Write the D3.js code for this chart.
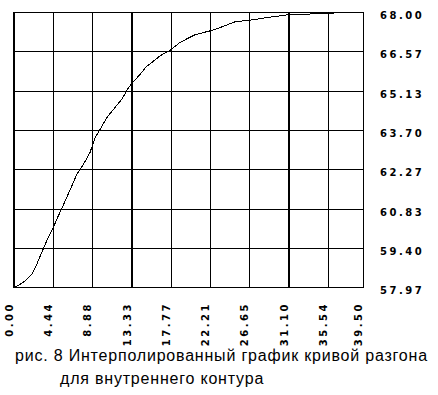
<!DOCTYPE html>
<html>
<head>
<meta charset="utf-8">
<script src="https://cdn.jsdelivr.net/npm/d3@7"></script>
<style>
    body { margin: 0; background: #fff; }
    svg { display: block; }
    .tick-label { font-family: "DejaVu Sans", sans-serif; font-weight: bold; font-size: 10px; letter-spacing: 2.5px; fill: #000; }
    .caption { font-family: "Liberation Sans", Arial, sans-serif; font-size: 16px; letter-spacing: 0.8px; fill: #000; }
</style>
</head>
<body>
<div id="chart"></div>
<script>
// time axis ticks (last one is the end of the record)
let xTicks = [0.00, 4.44, 8.88, 13.33, 17.77, 22.21, 26.65, 31.10, 35.54, 39.50];
let yTicks = [57.97, 59.40, 60.83, 62.27, 63.70, 65.13, 66.57, 68.00];

// interpolated step response
let time = [0, 0.68, 1.44, 2.0, 2.57, 3.14, 3.88, 4.45, 5.01, 5.40, 5.96, 6.53, 7.10, 7.84,
    8.60, 9.17, 9.73, 10.49, 11.24, 12.19, 12.94, 13.32, 14.26, 15.02, 15.73, 16.53, 17.66,
    18.79, 20.49, 22.18, 23.32, 25.01, 26.71, 28.78, 31.05, 33.13, 35.39, 37.46, 39.50];
let value = [57.97, 58.08, 58.26, 58.45, 58.81, 59.25, 59.80, 60.16, 60.58, 60.84, 61.25, 61.66,
    62.09, 62.45, 62.89, 63.43, 63.73, 64.16, 64.46, 64.83, 65.25, 65.40, 65.74, 66.04, 66.21,
    66.42, 66.62, 66.91, 67.19, 67.33, 67.45, 67.66, 67.72, 67.82, 67.92, 67.94, 67.97, 68.00, 68.00];

let caption = ["рис. 8 Интерполированный график кривой разгона", "для внутреннего контура"];

let width = 438,
    height = 395,
    plot = { left: 14, right: 363, top: 12.5, bottom: 287.5 },
    boldCols = [0, 3, 7]; // these columns come out 2px wide in the original

let svg = d3.select('#chart').append('svg')
    .attr('width', width)
    .attr('height', height);

let x = d3.scaleLinear().domain([xTicks[0], xTicks[xTicks.length - 1]]).range([plot.left, plot.right]);
let y = d3.scaleLinear().domain([yTicks[0], yTicks[yTicks.length - 1]]).range([plot.bottom, plot.top]);

let grid = svg.append('g').attr('shape-rendering', 'crispEdges');

function colX(d, i) {
    return Math.round(x(d)) + (boldCols.indexOf(i) >= 0 ? 0 : 0.5);
}

// vertical grid lines
grid.selectAll('.vline')
    .data(xTicks)
    .enter().append('line')
    .attr('class', 'vline')
    .attr('x1', colX)
    .attr('x2', colX)
    .attr('y1', y(yTicks[0]) + 0.5)
    .attr('y2', y(yTicks[yTicks.length - 1]))
    .attr('stroke', '#000')
    .attr('stroke-width', function(d, i) { return boldCols.indexOf(i) >= 0 ? 2 : 1; });

// horizontal grid lines
grid.selectAll('.hline')
    .data(yTicks)
    .enter().append('line')
    .attr('class', 'hline')
    .attr('x1', x(xTicks[0]) - 1)
    .attr('x2', Math.round(x(xTicks[xTicks.length - 1])) + 1)
    .attr('y1', function(d) { return Math.floor(y(d)) + 0.5; })
    .attr('y2', function(d) { return Math.floor(y(d)) + 0.5; })
    .attr('stroke', '#000')
    .attr('stroke-width', 1);

// the curve
let line = d3.line()
    .x(function(d) { return x(d[0]); })
    .y(function(d) { return y(d[1]); });

svg.append('path')
    .datum(d3.zip(time, value))
    .attr('d', line)
    .attr('fill', 'none')
    .attr('stroke', '#000')
    .attr('stroke-width', 1)
    .attr('shape-rendering', 'crispEdges');

// y labels on the right
svg.selectAll('.ylab')
    .data(yTicks)
    .enter().append('text')
    .attr('class', 'tick-label ylab')
    .attr('x', 380)
    .attr('y', function(d) { return Math.floor(y(d)) + 6.5; })
    .text(function(d) { return d.toFixed(2); });

// x labels, rotated
svg.selectAll('.xlab')
    .data(xTicks)
    .enter().append('text')
    .attr('class', 'tick-label xlab')
    .attr('text-anchor', 'end')
    .attr('transform', function(d) { return 'translate(' + (Math.round(x(d)) - 1) + ',302) rotate(-90)'; })
    .text(function(d) { return d.toFixed(2); });

// caption
svg.append('text')
    .attr('class', 'caption')
    .attr('x', 15)
    .attr('y', 361)
    .text(caption[0]);

svg.append('text')
    .attr('class', 'caption')
    .attr('x', 60)
    .attr('y', 384)
    .text(caption[1]);
</script>
</body>
</html>
